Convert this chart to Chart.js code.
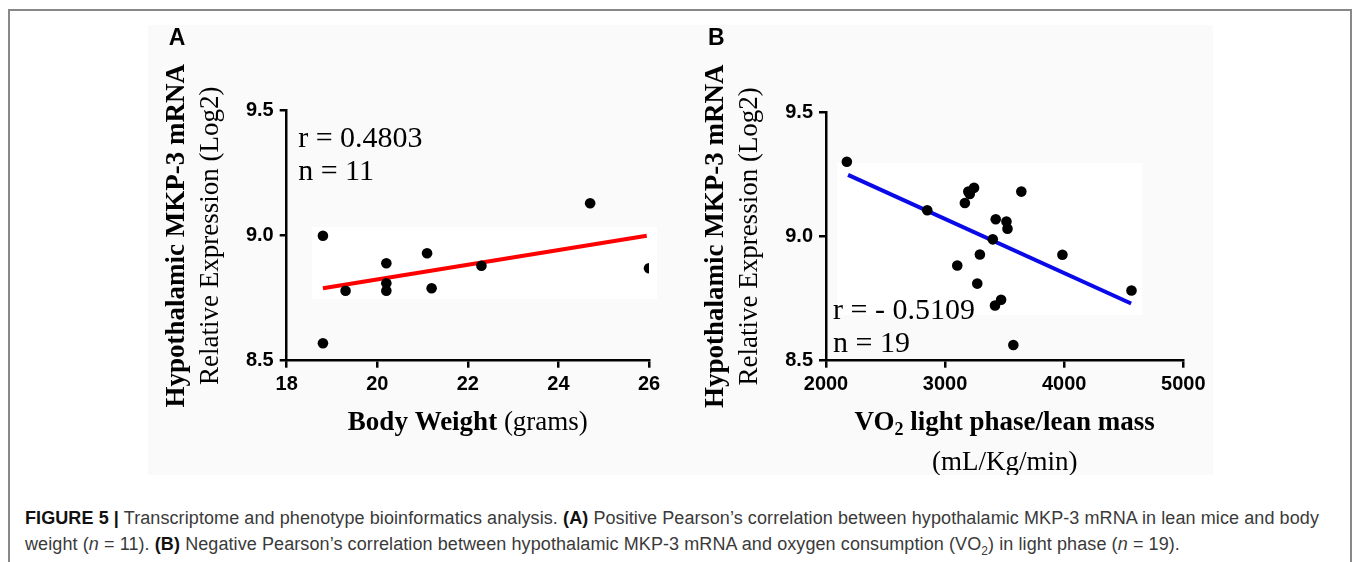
<!DOCTYPE html>
<html>
<head>
<meta charset="utf-8">
<script src="https://cdn.jsdelivr.net/npm/chart.js@4.4.1/dist/chart.umd.min.js"></script>
<style>
  html, body { margin: 0; padding: 0; background: #fff; }
  body { width: 1354px; height: 562px; position: relative; overflow: hidden; }
  #frame { position: absolute; left: 8px; top: 9px; width: 1340px; height: 600px; border: 2px solid #888; }
  #figBg { position: absolute; left: 148px; top: 25px; width: 1065px; height: 450px; background: #fafafa; }
  .patch { position: absolute; background: #fff; }
  canvas { position: absolute; }
  #caption {
    position: absolute; left: 25px; top: 505px; white-space: nowrap; letter-spacing: 0.09px;
    font: 18px "Liberation Sans", Arial, sans-serif; line-height: 26px; color: #3a3a3a;
  }
  #caption b { color: #111; }
</style>
</head>
<body>
<div id="frame"></div>
<div id="figBg"></div>
<div class="patch" style="left:312px;top:227px;width:345px;height:72px;"></div>
<div class="patch" style="left:837px;top:163px;width:305px;height:152px;"></div>
<canvas id="chartA" width="530" height="450" style="left:150px;top:25px;"></canvas>
<canvas id="chartB" width="530" height="450" style="left:690px;top:25px;"></canvas>
<div id="caption"><b>FIGURE 5 |</b> Transcriptome and phenotype bioinformatics analysis. <b>(A)</b> Positive Pearson’s correlation between hypothalamic MKP-3 mRNA in lean mice and body<br>weight (<i>n</i> = 11). <b>(B)</b> Negative Pearson’s correlation between hypothalamic MKP-3 mRNA and oxygen consumption (VO<sub style="font-size:12px">2</sub>) in light phase (<i>n</i> = 19).</div>

<script>
// Panel A: body weight vs expression
const weightX = [18.8, 18.8, 19.3, 20.2, 20.2, 20.2, 21.1, 21.2, 22.3, 24.7, 26.0];
const weightY = [9.00, 8.57, 8.78, 8.89, 8.81, 8.78, 8.93, 8.79, 8.88, 9.13, 8.87];
const weightFitX = [18.8, 25.95];
const weightFitY = [8.79, 9.00];
const weightTicks = [18, 20, 22, 24, 26];

// Panel B: VO2 vs expression
const vo2X = [2175, 2850, 3195, 3207, 3243, 3166, 3640, 3425, 3515, 3524, 3400, 3292, 3102, 3985, 3270, 3470, 3419, 3573, 4565];
const vo2Y = [9.30, 9.105, 9.18, 9.17, 9.195, 9.134, 9.18, 9.069, 9.06, 9.031, 8.988, 8.927, 8.883, 8.926, 8.81, 8.745, 8.722, 8.563, 8.782];
const vo2FitX = [2185, 4562];
const vo2FitY = [9.247, 8.73];
const vo2Ticks = [2000, 3000, 4000, 5000];

const exprTicks = [8.5, 9.0, 9.5];

const SERIF = '"Liberation Serif", "Times New Roman", serif';
const SANS = '"Liberation Sans", Arial, sans-serif';

function toPoints(xs, ys) {
    return xs.map((x, i) => ({ x: x, y: ys[i] }));
}

// draw a row of differently styled text pieces centred on cx
function drawRuns(ctx, runs, cx, y) {
    let total = 0;
    runs.forEach(r => { ctx.font = r.font; total += ctx.measureText(r.text).width; });
    let x = cx - total / 2;
    ctx.textAlign = 'left';
    runs.forEach(r => {
        ctx.font = r.font;
        ctx.fillText(r.text, x, y + (r.dy || 0));
        x += ctx.measureText(r.text).width;
    });
}

// axis titles, panel letter and r / n labels
const panelText = {
    id: 'panelText',
    afterDraw(chart, args, opts) {
        const ctx = chart.ctx;
        const a = chart.chartArea;
        ctx.save();
        ctx.fillStyle = '#000';
        ctx.textBaseline = 'alphabetic';

        ctx.font = 'bold 23px ' + SANS;
        ctx.textAlign = 'left';
        ctx.fillText(opts.letter, a.left - 118, 20);

        const cy = (a.top + a.bottom) / 2;
        ctx.save();
        ctx.translate(a.left - 110, cy);
        ctx.rotate(-Math.PI / 2);
        ctx.textAlign = 'center';
        ctx.textBaseline = 'middle';
        ctx.font = 'bold 27px ' + SERIF;
        ctx.fillText('Hypothalamic MKP-3 mRNA', 0, 0);
        ctx.font = '27px ' + SERIF;
        ctx.fillText('Relative Expression (Log2)', 0, 34);
        ctx.restore();

        const cx = (a.left + a.right) / 2;
        ctx.textBaseline = 'middle';
        opts.xTitle.forEach((row, i) => drawRuns(ctx, row, cx, a.bottom + 62 + i * 40));

        ctx.textBaseline = 'alphabetic';
        ctx.textAlign = 'left';
        ctx.font = '30px ' + SERIF;
        opts.stats.forEach((s, i) => ctx.fillText(s, a.left + opts.statsX, a.top + opts.statsY + i * 33));
        ctx.restore();
    }
};

function makeChart(id, pts, fit, xTicks, pad, fitColor, text) {
    const ctx = document.getElementById(id).getContext('2d');
    return new Chart(ctx, {
        type: 'scatter',
        data: {
            datasets: [{
                data: pts,
                backgroundColor: '#000',
                borderWidth: 0,
                pointRadius: 5.3,
                pointHoverRadius: 5.3
            }, {
                data: fit,
                showLine: true,
                borderColor: fitColor,
                borderWidth: 4,
                pointRadius: 0,
                fill: false
            }]
        },
        options: {
            responsive: false,
            animation: false,
            events: [],
            layout: { padding: pad },
            plugins: { legend: { display: false }, tooltip: { enabled: false }, panelText: text },
            scales: {
                x: {
                    type: 'linear',
                    min: xTicks[0],
                    max: xTicks[xTicks.length - 1],
                    afterBuildTicks: s => { s.ticks = xTicks.map(v => ({ value: v })); },
                    afterFit: s => { s.height = 40; },
                    border: { display: true, color: '#000', width: 2.5 },
                    grid: { drawOnChartArea: false, drawTicks: true, tickLength: 7, color: '#000', lineWidth: 2.5 },
                    ticks: { color: '#000', padding: 5, maxRotation: 0, callback: v => String(v), font: { family: SANS, size: 20, weight: 'bold' } }
                },
                y: {
                    type: 'linear',
                    min: exprTicks[0],
                    max: exprTicks[exprTicks.length - 1],
                    afterBuildTicks: s => { s.ticks = exprTicks.map(v => ({ value: v })); },
                    afterFit: s => { s.width = 50; },
                    border: { display: true, color: '#000', width: 2.5 },
                    grid: { drawOnChartArea: false, drawTicks: true, tickLength: 7, color: '#000', lineWidth: 2.5 },
                    ticks: { color: '#000', padding: 6, callback: v => v.toFixed(1), font: { family: SANS, size: 20, weight: 'bold' } }
                }
            }
        },
        plugins: [panelText]
    });
}

const bold27 = 'bold 27px ' + SERIF;
const norm27 = '27px ' + SERIF;

makeChart('chartA', toPoints(weightX, weightY), toPoints(weightFitX, weightFitY), weightTicks,
    { left: 86.7, right: 31, top: 85.7, bottom: 74.3 }, '#ff0000', {
        letter: 'A',
        xTitle: [[{ text: 'Body Weight', font: bold27 }, { text: ' (grams)', font: norm27 }]],
        stats: ['r = 0.4803', 'n = 11'],
        statsX: 11.5, statsY: 36
    });

makeChart('chartB', toPoints(vo2X, vo2Y), toPoints(vo2FitX, vo2FitY), vo2Ticks,
    { left: 86, right: 36.7, top: 87, bottom: 74.3 }, '#0a0ae8', {
        letter: 'B',
        xTitle: [
            [{ text: 'VO', font: bold27 }, { text: '2', font: 'bold 18px ' + SERIF, dy: 8 }, { text: ' light phase/lean mass', font: bold27 }],
            [{ text: '(mL/Kg/min)', font: norm27 }]
        ],
        stats: ['r = - 0.5109', 'n = 19'],
        statsX: 7, statsY: 207
    });
</script>
</body>
</html>
